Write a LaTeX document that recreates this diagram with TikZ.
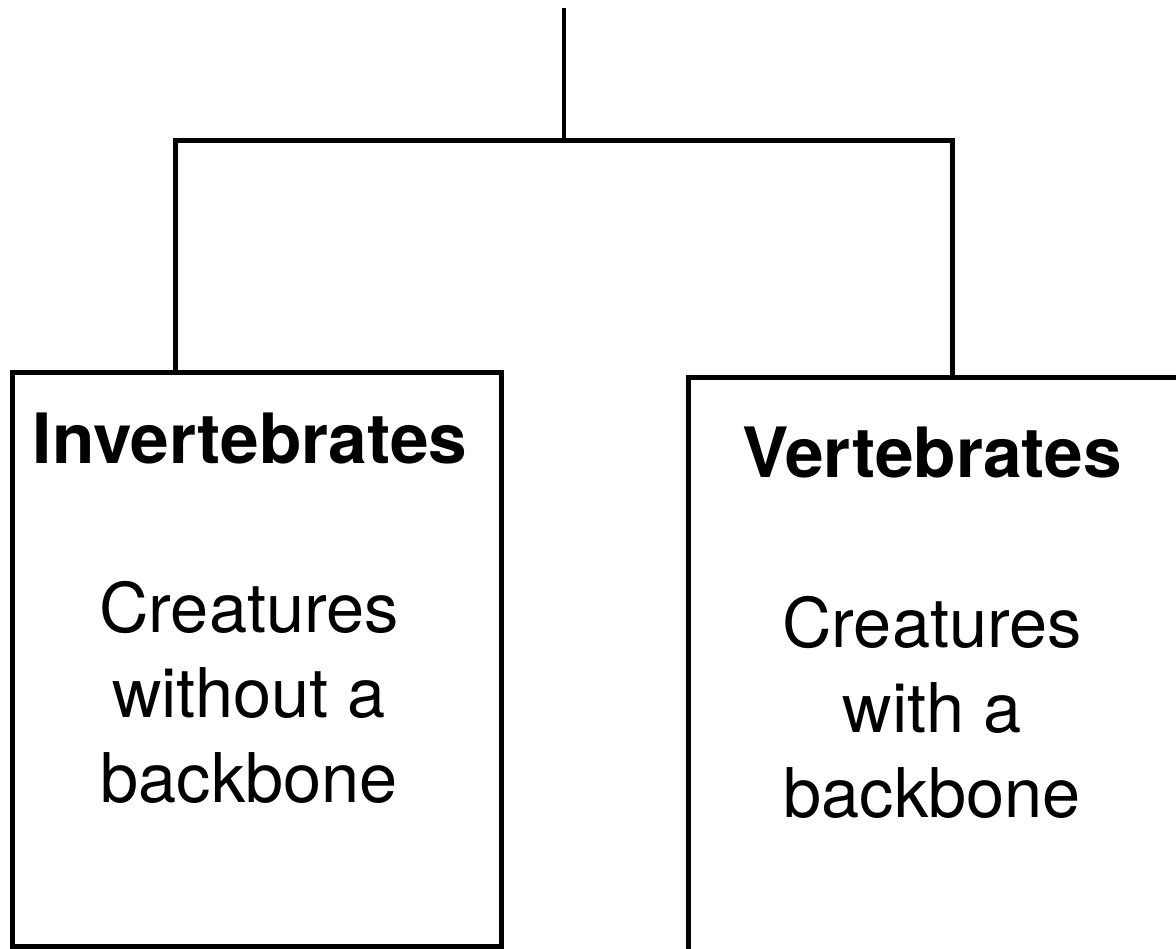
\documentclass[tikz,border=0pt]{standalone}
\usepackage{fontspec}
\setmainfont{TeX Gyre Heros}
\usetikzlibrary{positioning}

\begin{document}
\begin{tikzpicture}[x=0.02cm, y=-0.02cm,
	box/.style = {draw, line width=2.8pt, minimum width=9.8cm, minimum height=11.48cm},
	head/.style = {anchor=base, font=\fontsize{39.5}{48.4}\selectfont\bfseries},
	body/.style = {align=center, font=\fontsize{39}{48.4}\selectfont},
	link/.style = {line width=2.8pt, line join=miter}]
	\useasboundingbox (0,0) rectangle (1176,949);
	% the two groups
	\node[box] (inv) at (257,659.5) {};
	\node[box, minimum height=12cm] (vert) at (933.5,677) {};
	\node[head] (invt) at (250,463) {Invertebrates};
	\node[head] (vertt) at (932,477) {Vertebrates};
	\node[body] (invb) at (249,692.5) {Creatures\\without a\\backbone};
	\node[body] (vertb) at (932,707.5) {Creatures\\with a\\backbone};
	% the tree
	\coordinate (top) at (564,8);
	\coordinate (root) at (564,140.5);
	\draw[link] (top) -- (root);
	\draw[link] ([xshift=-1.63cm]inv.north) |- (root) -| ([xshift=0.38cm]vert.north);
\end{tikzpicture}
\end{document}
